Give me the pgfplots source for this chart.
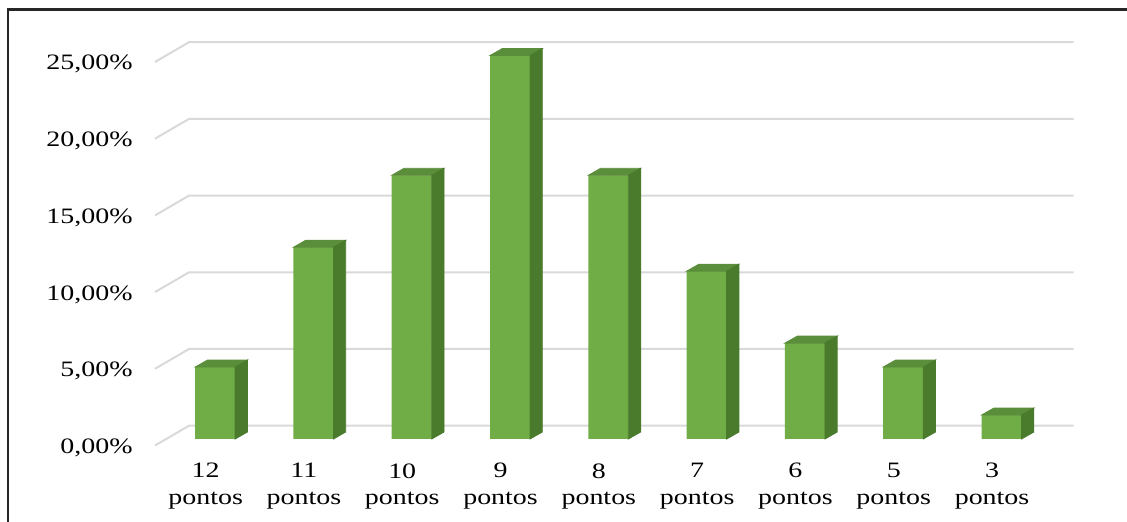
\documentclass[border=0pt]{standalone}
\usepackage{pgfplots}
\pgfplotsset{compat=1.18}
\usepackage{pgfplotstable}
\usepackage{fontspec}
\setmainfont{Liberation Serif}[FakeStretch=1.27]

\definecolor{barfront}{HTML}{70AD47}
\definecolor{barside}{HTML}{4A7A2C}
\definecolor{bartop}{HTML}{5B8E3A}
\definecolor{gridc}{HTML}{D9D9D9}

% share of players per score (percent)
\pgfplotstableread{
pos v
0 4.69
1 12.50
2 17.19
3 25.00
4 17.19
5 10.94
6 6.25
7 4.69
8 1.56
}\pontos

\begin{document}
\begin{tikzpicture}
\path[use as bounding box] (-83pt,-41.5pt) rectangle (480.5pt,219.5pt);
\begin{axis}[
  scale only axis,
  width=442.35pt, height=191.75pt,
  xmin=-0.5, xmax=8.5, ymin=0, ymax=25,
  clip=false,
  axis line style={draw=none},
  tick style={draw=none},
  major tick length=0pt,
  ytick={0,5,10,15,20,25},
  yticklabels={{0,00\%},{5,00\%},{10,00\%},{15,00\%},{20,00\%},{25,00\%}},
  yticklabel style={anchor=east, inner sep=0pt, xshift=-16.5pt, yshift=-4.4pt, font=\fontsize{11pt}{13.2pt}\selectfont},
  xtick={0,...,8},
  xticklabels={{12\\pontos},{11\\pontos},{10\\pontos},{9\\pontos},{8\\pontos},{7\\pontos},{6\\pontos},{5\\pontos},{3\\pontos}},
  xticklabel style={align=center, anchor=north, inner sep=0pt, xshift=-4.75pt, yshift=-12pt, font=\fontsize{11pt}{13.2pt}\selectfont},
]
% floor-to-wall grid lines
\pgfplotsinvokeforeach{0,5,10,15,20,25}{
  \draw[gridc, line width=1pt]
    ([xshift=-5.5pt,yshift=-3.25pt]axis cs:-0.5,#1)
    -- ([xshift=11.5pt,yshift=6.65pt]axis cs:-0.5,#1)
    -- ([xshift=11.5pt,yshift=6.65pt]axis cs:8.5,#1);
}
% front faces
\addplot[ybar, bar width=20pt, fill=barfront, draw=none] table[x=pos,y=v]{\pontos};
% top and side faces of each column
\addplot[scatter, only marks, mark=*, mark size=0pt,
  mark options={draw=none, fill=none},
  visualization depends on={\thisrow{v} \as \val},
  scatter/@pre marker code/.code={
    \fill[bartop] (-10pt,0pt) -- (10pt,0pt) -- (16.15pt,3.5pt) -- (-3.85pt,3.5pt) -- cycle;
    \fill[barside] (10pt,0pt) -- ++(6.15pt,3.5pt) -- ++(0pt,-\val*7.67pt) -- ++(-6.15pt,-3.5pt) -- cycle;
  },
  scatter/@post marker code/.code={}
] table[x=pos,y=v]{\pontos};
\end{axis}
\draw[line width=1.3pt, black!85] (-79pt,-50pt) -- (-79pt,214.75pt) -- (490pt,214.75pt);
\end{tikzpicture}
\end{document}
